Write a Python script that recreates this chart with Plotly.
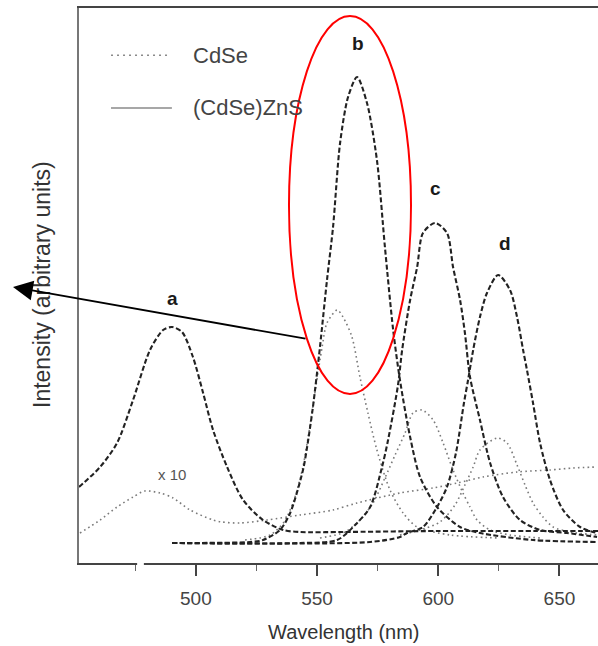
import plotly.graph_objects as go

# Photoluminescence spectra, wavelength in nm, intensity in arbitrary units.
# (CdSe)ZnS core-shell samples a-d
ZNS_A_WL = [451.8, 460.5, 467.5, 474.1, 481.1, 486.5, 490.2, 494.3, 498.8, 503.0, 507.1,
            512.9, 519.5, 527.7, 536.0, 543.0, 560.0, 600.0, 640.0, 665.9]
ZNS_A_I = [76, 96, 120, 163, 213, 233, 236, 231, 206, 170, 133,
           96, 63, 43, 33, 31, 31, 32, 32, 32]

ZNS_B_WL = [490.2, 522.4, 527.7, 534.7, 538.9, 544.2, 545.9, 548.3, 551.2, 554.1, 556.6,
            559.5, 562.8, 566.5, 570.6, 574.7, 578.0, 581.4, 584.2, 588.4, 592.5, 599.5,
            609.0, 617.2, 639.1, 665.5]
ZNS_B_I = [20, 21, 23, 33, 50, 93, 116, 156, 216, 283, 336,
           420, 466, 486, 460, 403, 316, 233, 183, 126, 86, 56,
           36, 30, 23, 21]

ZNS_C_WL = [490.2, 543.0, 558.3, 565.7, 571.9, 576.8, 579.3, 583.4, 585.1, 588.4, 591.3,
            593.7, 598.7, 603.6, 606.1, 609.0, 611.0, 613.1, 617.2, 621.4, 626.7, 633.7,
            642.0, 653.1, 665.5]
ZNS_C_I = [20, 20, 23, 38, 56, 96, 123, 178, 213, 263, 296,
           330, 340, 330, 296, 263, 230, 186, 143, 100, 66, 43,
           33, 30, 26]

ZNS_D_WL = [490.2, 571.9, 584.2, 587.1, 593.7, 599.5, 603.6, 607.3, 610.6, 612.3, 614.4,
            617.2, 620.1, 624.7, 629.6, 632.5, 635.0, 636.6, 639.1, 642.0, 646.1, 651.5,
            658.5, 665.5]
ZNS_D_I = [20, 21, 26, 30, 36, 56, 76, 110, 160, 183, 213,
           246, 270, 288, 273, 246, 213, 193, 160, 120, 83, 53,
           36, 30]

# Bare CdSe cores (sample a shown x10)
CDSE_A_WL = [452.2, 460.5, 467.5, 474.1, 479.0, 485.2, 490.6, 497.6, 507.1, 510.8, 518.2,
             529.4, 543.0, 556.6, 566.5, 584.2, 597.9, 607.8, 618.5, 632.5, 646.1, 655.6, 665.5]
CDSE_A_I = [30, 43, 56, 66, 72, 70, 65, 53, 43, 41, 40,
            43, 48, 53, 60, 70, 75, 80, 86, 91, 93, 95, 96]

CDSE_B_WL = [520.3, 530.6, 536.4, 540.5, 543.9, 546.8, 549.6, 552.1, 554.1, 558.3, 560.7,
             564.4, 567.7, 571.0, 574.7, 580.1, 585.5, 591.3, 604.9, 625.5]
CDSE_B_I = [23, 28, 41, 63, 93, 133, 178, 216, 240, 253, 246,
            226, 186, 150, 113, 73, 50, 36, 28, 25]

CDSE_C_WL = [551.2, 561.5, 567.7, 573.1, 578.0, 582.2, 586.3, 589.6, 593.3, 597.9, 602.0,
             606.1, 610.2, 613.1, 616.0, 621.4, 629.6, 642.0]
CDSE_C_I = [25, 31, 43, 60, 85, 108, 130, 150, 153, 143, 120,
            93, 70, 56, 43, 33, 28, 25]

CDSE_D_WL = [584.2, 592.5, 600.7, 606.9, 611.0, 614.4, 617.2, 624.3, 628.4, 632.5, 635.8,
             639.1, 643.2, 647.4, 654.4, 665.5]
CDSE_D_I = [28, 33, 41, 58, 78, 96, 113, 125, 120, 98, 78,
            60, 46, 36, 31, 28]

X_TICKS = [500, 550, 600, 650]
X_MINOR = [475, 525, 575, 625]

# Peak labels: (text, wavelength, intensity)
PEAK_LABELS = [("a", 490.2, 265), ("b", 566.9, 520), ("c", 598.7, 375), ("d", 627.5, 320)]

FONT = "Liberation Sans, Arial, Helvetica, sans-serif"
ZNS_STYLE = dict(color="#222222", width=2.1, dash="5px,2.5px")
CDSE_STYLE = dict(color="#7a7a7a", width=1.6, dash="1.6px,3.2px")

fig = go.Figure()

for wl, inten in [(CDSE_A_WL, CDSE_A_I), (CDSE_B_WL, CDSE_B_I),
                  (CDSE_C_WL, CDSE_C_I), (CDSE_D_WL, CDSE_D_I)]:
    fig.add_trace(go.Scatter(x=wl, y=inten, mode="lines", line=dict(**CDSE_STYLE),
                             line_shape="spline", line_smoothing=0.8,
                             showlegend=False, hoverinfo="skip"))

for wl, inten in [(ZNS_A_WL, ZNS_A_I), (ZNS_B_WL, ZNS_B_I),
                  (ZNS_C_WL, ZNS_C_I), (ZNS_D_WL, ZNS_D_I)]:
    fig.add_trace(go.Scatter(x=wl, y=inten, mode="lines", line=dict(**ZNS_STYLE),
                             line_shape="spline", line_smoothing=0.8,
                             showlegend=False, hoverinfo="skip"))

annotations = []
for txt, wl, inten in PEAK_LABELS:
    annotations.append(dict(x=wl, y=inten, xref="x", yref="y", text=f"<b>{txt}</b>",
                            showarrow=False, font=dict(family=FONT, size=19, color="#1a1a1a")))
annotations.append(dict(x=490.2, y=89, xref="x", yref="y", text="x 10", showarrow=False,
                        font=dict(family=FONT, size=15, color="#555")))

# legend text
annotations.append(dict(x=0.2158, y=0.915, xref="paper", yref="paper", text="CdSe",
                        xanchor="left", yanchor="middle", showarrow=False,
                        font=dict(family=FONT, size=22, color="#444")))
annotations.append(dict(x=0.2158, y=0.820, xref="paper", yref="paper", text="(CdSe)ZnS",
                        xanchor="left", yanchor="middle", showarrow=False,
                        font=dict(family=FONT, size=22, color="#444")))

# axis titles
annotations.append(dict(x=0.5106, y=-0.1243, xref="paper", yref="paper", text="Wavelength (nm)",
                        showarrow=False, xanchor="center", yanchor="middle",
                        font=dict(family=FONT, size=20, color="#333")))
annotations.append(dict(x=-0.0713, y=0.5027, xref="paper", yref="paper",
                        text="Intensity (arbitrary units)", textangle=-90,
                        showarrow=False, xanchor="center", yanchor="middle",
                        font=dict(family=FONT, size=23, color="#333")))

# pointer arrow from the highlighted peak toward the intensity axis
annotations.append(dict(x=-0.1272, y=0.4973, xref="paper", yref="paper", text="",
                        showarrow=True, ax=294, ay=52, axref="pixel", ayref="pixel",
                        arrowhead=2, arrowsize=2.2, arrowwidth=1.8, arrowcolor="black"))

shapes = [
    # legend samples
    dict(type="line", xref="paper", yref="paper", x0=0.0617, x1=0.1715, y0=0.915, y1=0.915,
         line=dict(color="#8a8a8a", width=1.5, dash="2px,4px")),
    dict(type="line", xref="paper", yref="paper", x0=0.0617, x1=0.179, y0=0.820, y1=0.820,
         line=dict(color="#8a8a8a", width=1.5)),
    # red highlight around peak b
    dict(type="circle", xref="paper", yref="paper", x0=0.4046, x1=0.6397, y0=0.3045, y1=0.9856,
         line=dict(color="red", width=2)),
    # small break in the bottom axis line
    dict(type="rect", xref="paper", yref="paper", x0=0.112, x1=0.125, y0=-0.006, y1=0.006,
         line=dict(width=0), fillcolor="white", layer="above"),
]

fig.update_layout(
    width=598, height=646,
    margin=dict(l=79, r=0, t=8, b=83),
    paper_bgcolor="white", plot_bgcolor="white",
    showlegend=False,
    annotations=annotations,
    shapes=shapes,
    xaxis=dict(range=[451.8, 665.9], tickvals=X_TICKS, ticktext=[str(v) for v in X_TICKS],
               ticks="outside", ticklen=11, tickwidth=1.5, tickcolor="#444",
               showline=True, linecolor="#444", linewidth=2, mirror=True,
               showgrid=False, zeroline=False, ticklabelstandoff=6,
               minor=dict(tickvals=X_MINOR, ticks="outside", ticklen=6, tickwidth=1.2,
                          tickcolor="#666"),
               tickfont=dict(family=FONT, size=19, color="#444")),
    yaxis=dict(range=[0, 555], showticklabels=False, ticks="", showline=True,
               linecolor="#777", linewidth=2, showgrid=False, zeroline=False),
)

fig.write_html("out.html")
